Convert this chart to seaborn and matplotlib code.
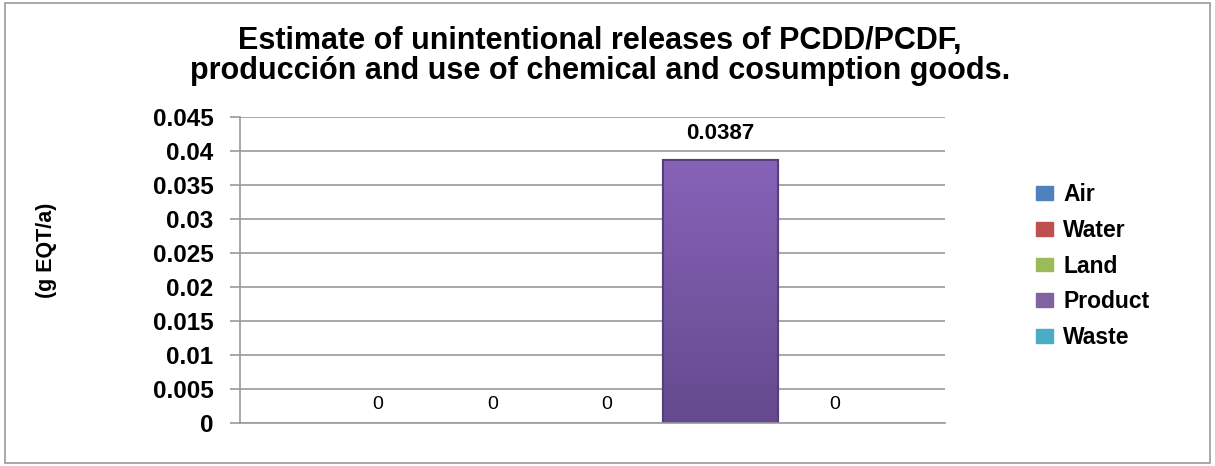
import matplotlib
matplotlib.use("Agg")
import matplotlib.pyplot as plt
from matplotlib.patches import Patch, Rectangle
import numpy as np
import pandas as pd
import seaborn as sns

# Releases by environmental compartment (g EQT/a)
series = ["Air", "Water", "Land", "Product", "Waste"]
values = [0.0, 0.0, 0.0, 0.0387, 0.0]
colors = ["#4f81bd", "#c0504d", "#9bbb59", "#8064a2", "#4bacc6"]
category = [""] * len(series)
yticks = [0, 0.005, 0.01, 0.015, 0.02, 0.025, 0.03, 0.035, 0.04, 0.045]
title = ("Estimate of unintentional releases of PCDD/PCDF,\n"
         "producción and use of chemical and cosumption goods.")
ylabel = "(g EQT/a)"

df = pd.DataFrame({"cat": category, "series": series, "value": values})

sns.set_style("white")
plt.rcParams["font.family"] = ["Liberation Sans", "DejaVu Sans"]
plt.rcParams["text.color"] = "black"
plt.rcParams["axes.labelcolor"] = "black"
plt.rcParams["ytick.labelcolor"] = "black"

fig = plt.figure(figsize=(12.15, 4.66), dpi=100)
ax = fig.add_axes([0.1975, 0.0923, 0.580, 0.657])

sns.barplot(data=df, x="cat", y="value", hue="series", hue_order=series,
            palette=colors, width=0.81, ax=ax, legend=False, saturation=1)

ax.set_ylim(0, 0.045)
ax.set_xlim(-0.52, 0.48)
ax.set_yticks(yticks)
ax.set_yticklabels([f"{t:g}" for t in yticks], fontsize=17.5, fontweight="bold")
ax.set_xticks([])
ax.set_xlabel("")
ax.set_ylabel(ylabel, fontsize=15.5, fontweight="bold")
ax.yaxis.set_label_coords(-0.260, 0.565)
ax.yaxis.grid(True, color="#9a9a9a", linewidth=1.2)
ax.set_axisbelow(True)
for s in ["top", "right"]:
    ax.spines[s].set_visible(False)
for s in ["left", "bottom"]:
    ax.spines[s].set_color("#9a9a9a")
    ax.spines[s].set_linewidth(1.2)
ax.tick_params(axis="y", which="major", direction="out", length=7,
               color="#9a9a9a", width=1.2, pad=12, left=True)

# Shade the non-zero bars with a vertical gradient and darker rim
for bar in list(ax.patches):
    h = bar.get_height()
    if h > 0:
        x0 = bar.get_x()
        w = bar.get_width()
        grad = np.linspace(0, 1, 256).reshape(-1, 1)
        cmap = matplotlib.colors.LinearSegmentedColormap.from_list(
            "shade", ["#654a8e", "#8663b8"])
        im = ax.imshow(grad, extent=[x0, x0 + w, 0, h], origin="lower",
                       aspect="auto", cmap=cmap, zorder=bar.get_zorder() + 0.1)
        im.set_clip_path(bar)
        bar.set_edgecolor("#4e3a6e")
        bar.set_linewidth(1.5)
        ax.add_patch(Rectangle((x0, 0), w, h, fill=False, edgecolor="#55407a",
                               linewidth=1.5, zorder=bar.get_zorder() + 0.2))
ax.set_xlim(-0.52, 0.48)
ax.set_ylim(0, 0.045)

# Value labels above each bar
for bar in ax.patches:
    if bar.get_fill() is False:
        continue
    h = bar.get_height()
    cx = bar.get_x() + bar.get_width() / 2
    if h > 0:
        ax.annotate(f"{h:g}", (cx, h), xytext=(0, 11), textcoords="offset points",
                    ha="center", va="bottom", fontsize=16, fontweight="bold")
    else:
        ax.annotate(f"{h:g}", (cx, h), xytext=(0, 7), textcoords="offset points",
                    ha="center", va="bottom", fontsize=14)

fig.suptitle(title, x=0.494, y=0.945, fontsize=22, fontweight="bold",
             linespacing=1.0)

handles = [Patch(facecolor=c, edgecolor=c) for c in colors]
fig.legend(handles, series, loc="upper left", bbox_to_anchor=(0.845, 0.627),
           frameon=False, prop={"size": 16.5, "weight": "bold"},
           handlelength=0.75, handleheight=0.55, handletextpad=0.45,
           labelspacing=0.56, borderaxespad=0)

fig.patches.append(Rectangle((0.004, 0.006), 0.992, 0.988, transform=fig.transFigure,
                             fill=False, edgecolor="#9a9a9a", linewidth=1.2))

fig.savefig("out.png", dpi=100)
